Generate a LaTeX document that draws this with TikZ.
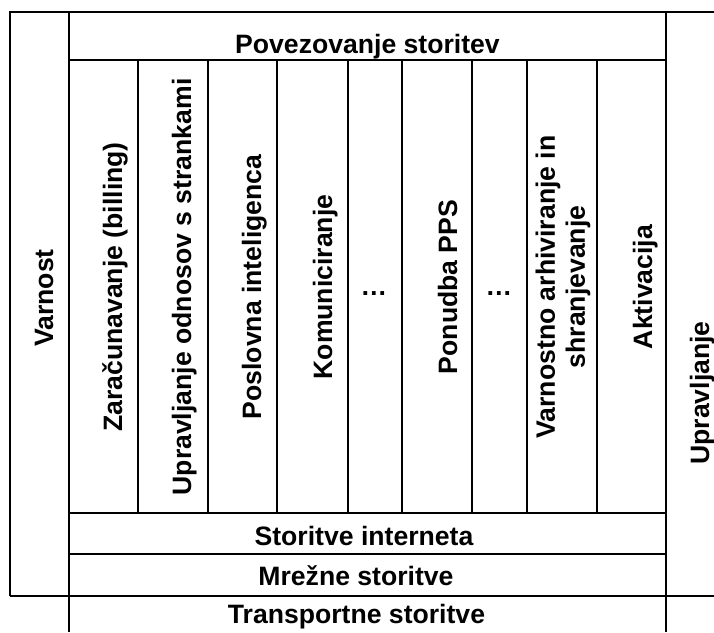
\documentclass[tikz,border=0pt]{standalone}
\usepackage{fontspec}
\setmainfont{Liberation Sans}
\tikzset{
  lbl/.style={font=\bfseries\fontsize{26.6pt}{30pt}\selectfont, inner sep=0pt},
  hlbl/.style={lbl, anchor=base},
  vlbl/.style={lbl, rotate=90, anchor=base},
}
\begin{document}
\begin{tikzpicture}[x=1pt,y=-1pt,line width=2pt]
	\useasboundingbox (0,0) rectangle (714,632);
	% frame
	\draw (10,596) -- (10,12) -- (714,12);
	\draw (10,596) -- (714,596);
	\draw (69,12) -- (69,632);
	\draw (666,12) -- (666,632);
	\foreach \y in {60,513,554}{\draw (69,\y) -- (666,\y);}
	\foreach \x in {138,208,277,348,402,472,527,597}{\draw (\x,60) -- (\x,513);}
	% layers
	\node[hlbl] (pov) at (367.5,53) {Povezovanje storitev};
	\node[hlbl] (inet) at (364,545) {Storitve interneta};
	\node[hlbl] (mrez) at (356,585) {Mrežne storitve};
	\node[hlbl] (trans) at (356.5,623) {Transportne storitve};
	\node[vlbl] (varn) at (53,298) {Varnost};
	\node[vlbl] (uprav) at (709,393) {Upravljanje};
	% services
	\foreach \x/\t [count=\i] in {122/{Zaračunavanje (billing)},191/{Upravljanje odnosov s strankami},261/{Poslovna inteligenca},332/{Komuniciranje},457/{Ponudba PPS},652/{Aktivacija}}
		{\node[vlbl] (srv\i) at (\x,287) {\t};}
	\node[lbl,rotate=90,align=center] (arh) at (563,287) {Varnostno arhiviranje in\\shranjevanje};
	\node[hlbl] (dotsA) at (374,295) {…};
	\node[hlbl] (dotsB) at (499,295) {…};
\end{tikzpicture}
\end{document}
